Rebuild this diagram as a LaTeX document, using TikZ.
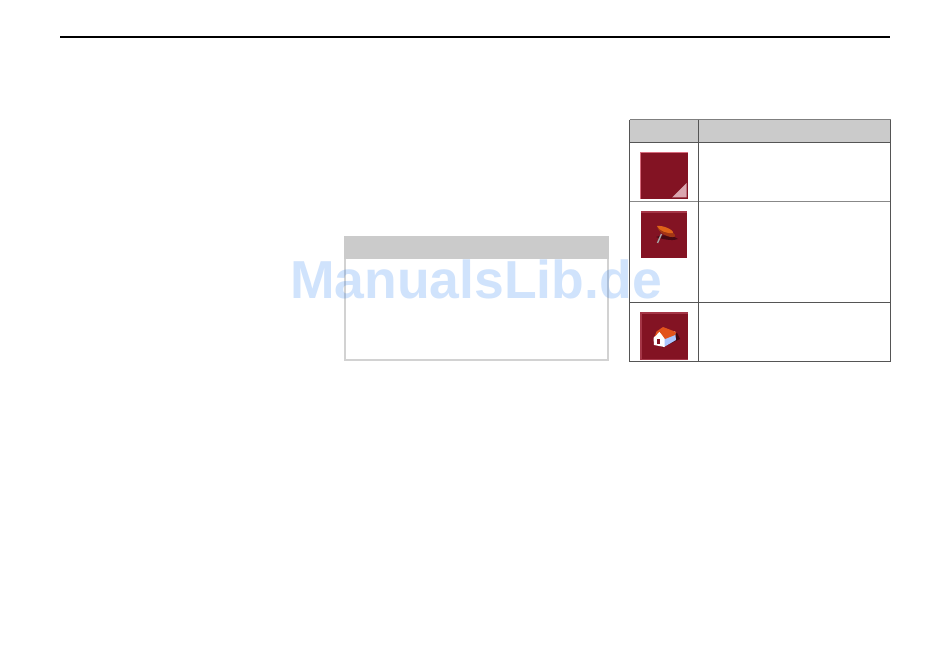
\documentclass[tikz,border=0pt]{standalone}
\usepackage{fontspec}
\setmainfont{Liberation Sans}
\definecolor{hdr}{HTML}{CBCBCB}
\definecolor{rule}{HTML}{555555}
\definecolor{boxl}{HTML}{D2D2D2}
\definecolor{wine}{HTML}{831323}
\definecolor{winel}{HTML}{D86A7C}
\definecolor{pinred}{HTML}{D9481C}
\definecolor{roofc}{HTML}{E2541C}
\definecolor{wm}{HTML}{0A6CF0}
\tikzset{
  tline/.style={draw=rule,line width=1pt},
  iconbox/.style={fill=wine}
}
\begin{document}
\begin{tikzpicture}[x=1pt,y=-1pt,line join=miter]
\useasboundingbox[fill=white] (0,0) rectangle (950,663);
% top rule
\draw[black,line width=1.1pt] (60,37) -- (890,37);
% left box
\draw[boxl,line width=2pt] (345,237) rectangle (607.5,360);
\fill[hdr] (344,236) rectangle (608.5,259);
% table
\fill[hdr] (629.5,120) rectangle (890.5,143);
\draw[rule,line width=1pt,draw opacity=.75] (629.5,120) -- (890.5,120);
\draw[tline] (629.5,143) -- (890.5,143);
\draw[tline,draw=rule!70] (629.5,201.5) -- (890.5,201.5);
\draw[tline] (629.5,302.5) -- (890.5,302.5);
\draw[tline] (629.5,361.5) -- (890.5,361.5);
\draw[tline] (629.5,120) -- (629.5,361.5);
\draw[tline] (698.5,120) -- (698.5,361.5);
\draw[tline] (890.5,120) -- (890.5,361.5);
% icon 1
\fill[winel] (640,152) rectangle (688,199);
\fill[iconbox] (641,153.5) rectangle (687.5,199);
\fill[white!45!winel!85!gray] (686.5,183) -- (686.5,197.5) -- (672,197.5) -- cycle;
% icon 2
\fill[wine!60!winel] (641,211) rectangle (687,213);
\fill[iconbox] (641,213) rectangle (687,258);
\fill[wine!55!black] (656,237) .. controls (665,240) and (674,241) .. (678,239) .. controls (673,235) and (665,234) .. (656,237) -- cycle;
\draw[gray!70!white,line width=1.4pt] (661.5,234) -- (657.5,243);
\fill[pinred!75!black] (657,226) .. controls (663,226) and (676,232) .. (675,236.5) .. controls (670,239) and (658,233) .. (657,226) -- cycle;
\fill[pinred!85!yellow] (657,226) .. controls (663,225) and (674,230) .. (673,233) .. controls (668,234) and (659,231) .. (657,226) -- cycle;
% icon 3
\fill[wine!60!winel] (640,312) rectangle (688,360);
\fill[iconbox] (641.5,313.5) rectangle (687.5,358.5);
\fill[wine!50!black] (662,347.5) -- (680,339) -- (677,333) -- (665,337) -- cycle;
\fill[white!75!blue!90!cyan] (662,336) -- (675,331) -- (676,340) -- (664,347) -- cycle;
\fill[white] (653.5,338) -- (659,331) -- (664.5,337) -- (664.5,347) -- (654,345) -- cycle;
\fill[wine] (657,338.5) rectangle (659.5,343.5);
\fill[roofc] (656.5,331.5) -- (663,327) -- (676,332) -- (675,335) -- (665,339) -- (659.5,331.5) -- (654.5,337) -- cycle;
% watermark
\node[text=wm,text opacity=.19,font=\bfseries\fontsize{53.5}{53.5}\selectfont,anchor=center,inner sep=0pt] (wmk) at (476,279) {ManualsLib.de};
\end{tikzpicture}
\end{document}
